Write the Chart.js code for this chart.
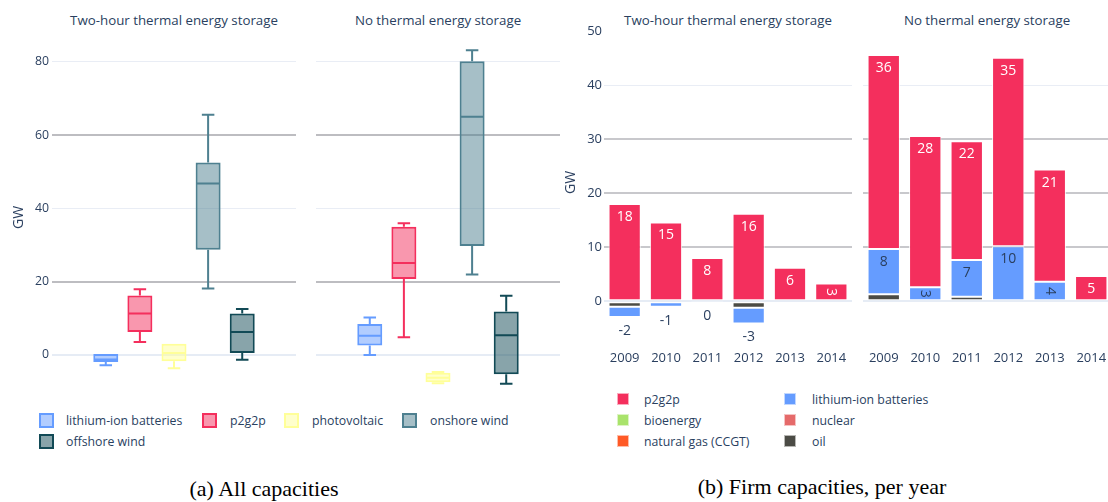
<!DOCTYPE html>
<html>
<head>
<meta charset="utf-8">
<script src="https://cdn.jsdelivr.net/npm/chart.js@4"></script>
<style>
body { margin: 0; width: 1108px; height: 502px; overflow: hidden; background: #fff; position: relative;
       font-family: "Open Sans", sans-serif; color: #2a3f5f; }
canvas { position: absolute; }
.naslov { position: absolute; font-size: 13.3px; transform: translate(-50%, -50%); white-space: nowrap; }
.leg { position: absolute; font-size: 12.3px; transform: translateY(-50%); white-space: nowrap; }
.sw { position: absolute; box-sizing: border-box; }
.caption { position: absolute; font-family: "Liberation Serif", serif; font-size: 22px; color: #000;
           transform: translate(-50%, -50%); white-space: nowrap; }
</style>
</head>
<body>
<div class="naslov" style="left:174px;top:20px">Two-hour thermal energy storage</div>
<div class="naslov" style="left:438px;top:20px">No thermal energy storage</div>
<div class="naslov" style="left:728px;top:20px">Two-hour thermal energy storage</div>
<div class="naslov" style="left:987px;top:20px">No thermal energy storage</div>

<canvas id="boxA1" width="300" height="370" style="left:0;top:30px"></canvas>
<canvas id="boxA2" width="244" height="370" style="left:316px;top:30px"></canvas>
<canvas id="barB1" width="296" height="350" style="left:556px;top:20px"></canvas>
<canvas id="barB2" width="249" height="350" style="left:863px;top:20px"></canvas>

<div id="legendA"></div>
<div id="legendB"></div>

<div class="caption" style="left:264px;top:489px">(a) All capacities</div>
<div class="caption" style="left:822px;top:487px">(b) Firm capacities, per year</div>

<script>
// Box plot (a): one box per technology
const boxNames = ['lithium-ion batteries', 'p2g2p', 'photovoltaic', 'onshore wind', 'offshore wind'];

// Two-hour thermal energy storage
const twoHourMin = [-2.9, 3.5, -3.7, 18.1, -1.4];
const twoHourQ1 = [-2.0, 6.2, -1.8, 28.7, 0.5];
const twoHourMedian = [-1.3, 11.3, 0.5, 46.8, 6.2];
const twoHourQ3 = [0.2, 16.2, 3.0, 52.5, 11.3];
const twoHourMax = [0.2, 17.9, 3.0, 65.6, 12.5];

// No thermal energy storage
const noTesMin = [-0.1, 4.8, -7.8, 21.9, -7.9];
const noTesQ1 = [2.5, 20.7, -7.5, 29.7, -5.3];
const noTesMedian = [5.2, 25.1, -6.3, 65.0, 5.3];
const noTesQ3 = [8.4, 35.0, -4.9, 80.2, 11.8];
const noTesMax = [10.2, 35.9, -4.7, 83.2, 16.1];

const boxTicks = [0, 20, 40, 60, 80];

// Bars (b): firm capacities per year
const years = ['2009', '2010', '2011', '2012', '2013', '2014'];
const twoHourP2g2p = [18.0, 14.6, 8.0, 16.2, 6.2, 3.3];
const twoHourLithium = [-1.9, -1.0, -0.05, -2.9, null, null];
const twoHourOil = [-1.0, null, null, -1.2, null, null];
const noTesP2g2p = [35.9, 28.0, 22.0, 34.9, 20.8, 4.7];
const noTesLithium = [8.4, 2.6, 6.8, 10.2, 3.6, null];
const noTesOil = [1.3, null, 0.85, null, null, null];
const noValues = [null, null, null, null, null, null]; // bioenergy, nuclear, natural gas

const barTicks = [0, 10, 20, 30, 40, 50];

// Boje
const boxLine = ['#659cff', '#f42f5d', '#ffff99', '#4e8090', '#124a56'];
const boxFill = ['rgba(101,156,255,0.5)', 'rgba(244,47,93,0.5)', 'rgba(255,255,153,0.5)',
                 'rgba(78,128,144,0.5)', 'rgba(18,74,86,0.5)'];
const barColors = {
    'p2g2p': '#f42f5d',
    'lithium-ion batteries': '#659cff',
    'bioenergy': '#a9e36b',
    'nuclear': '#e56a6a',
    'natural gas (CCGT)': '#ff5a26',
    'oil': '#4b4b45'
};

// Median, whiskers and caps on top of the floating bars
const boxWhiskers = {
    id: 'boxWhiskers',
    afterDatasetsDraw(chart) {
        const ctx = chart.ctx;
        const y = chart.scales.y;
        chart.data.datasets.forEach((ds, i) => {
            chart.getDatasetMeta(i).data.forEach((bar, j) => {
                const x = bar.x, w = bar.width;
                const q1 = ds.data[j][0], q3 = ds.data[j][1];
                ctx.save();
                ctx.strokeStyle = ds.borderColor;
                ctx.lineWidth = 2;
                ctx.beginPath();
                const ym = y.getPixelForValue(ds.median[j]);
                ctx.moveTo(x - w / 2 + 1, ym); ctx.lineTo(x + w / 2 - 1, ym);
                if (ds.max[j] > q3) {
                    const yt = y.getPixelForValue(ds.max[j]);
                    ctx.moveTo(x, y.getPixelForValue(q3)); ctx.lineTo(x, yt);
                    ctx.moveTo(x - w / 4, yt); ctx.lineTo(x + w / 4, yt);
                }
                if (ds.min[j] < q1) {
                    const yb = y.getPixelForValue(ds.min[j]);
                    ctx.moveTo(x, y.getPixelForValue(q1)); ctx.lineTo(x, yb);
                    ctx.moveTo(x - w / 4, yb); ctx.lineTo(x + w / 4, yb);
                }
                ctx.stroke();
                ctx.restore();
            });
        });
    }
};

// Value labels on the bars (plotly style: inside, rotated when short, outside for negatives)
const barLabels = {
    id: 'barLabels',
    afterDatasetsDraw(chart) {
        const ctx = chart.ctx;
        chart.data.datasets.forEach((ds, i) => {
            if (!ds.labelColor) return;
            chart.getDatasetMeta(i).data.forEach((bar, j) => {
                const v = ds.data[j];
                if (v === null) return;
                const text = String(Math.round(v) || 0);
                const top = Math.min(bar.y, bar.base), bottom = Math.max(bar.y, bar.base);
                const h = bottom - top;
                ctx.save();
                ctx.font = '14px "Open Sans"';
                ctx.textAlign = 'center';
                ctx.textBaseline = 'middle';
                if (v < 0 && ds.outsideNeg) {
                    ctx.fillStyle = '#2a3f5f';
                    ctx.fillText(text, bar.x, bottom + 14);
                } else if (h >= 24) {
                    ctx.fillStyle = ds.labelColor;
                    ctx.fillText(text, bar.x, top + 13);
                } else if (h >= 12) {
                    ctx.fillStyle = ds.labelColor;
                    ctx.translate(bar.x, (top + bottom) / 2);
                    ctx.rotate(Math.PI / 2);
                    ctx.fillText(text, 0, 0);
                }
                ctx.restore();
            });
        });
    }
};

function gridBoja(c) {
    const v = c.tick.value;
    if (v === 0) return '#e6ecf5';
    if (v === 20 || v === 60) return '#bdbdc1';
    return '#e9edf5';
}

// Chart.js reserves room for half of the edge labels; the plot area is fixed here
function fiksirajY(s, w) {
    s.width = w;
    s.paddingTop = 0;
    s.paddingBottom = 0;
}

function boxChart(id, mins, q1s, medians, q3s, maxs, showTicks) {
    const datasets = boxNames.map((name, k) => ({
        label: name,
        data: [[q1s[k], q3s[k]]],
        min: [mins[k]], median: [medians[k]], max: [maxs[k]],
        backgroundColor: boxFill[k],
        borderColor: boxLine[k],
        borderWidth: 2,
        borderSkipped: false,
        categoryPercentage: 0.699,
        barPercentage: 0.733
    }));
    return new Chart(document.getElementById(id), {
        type: 'bar',
        data: { labels: ['all'], datasets: datasets },
        options: {
            responsive: false, animation: false, devicePixelRatio: 1,
            layout: { padding: showTicks ? { left: 7, top: 10, right: 4, bottom: 5 } : { left: 0, top: 10, right: 0, bottom: 5 } },
            plugins: { legend: { display: false }, tooltip: { enabled: false } },
            scales: {
                x: { display: false },
                y: {
                    min: -11, max: 86,
                    afterBuildTicks: s => { s.ticks = boxTicks.map(v => ({ value: v })); },
                    afterFit: s => fiksirajY(s, showTicks ? 45 : 0),
                    border: { display: false },
                    grid: {
                        drawTicks: false,
                        color: gridBoja,
                        lineWidth: c => (c.tick.value === 0 || c.tick.value === 20 || c.tick.value === 60) ? 2 : 1
                    },
                    ticks: { display: showTicks, color: '#2a3f5f', font: { family: 'Open Sans', size: 12.3 }, padding: 3 },
                    title: { display: showTicks, text: 'GW', color: '#2a3f5f', font: { family: 'Open Sans', size: 14 } }
                }
            }
        },
        plugins: [boxWhiskers]
    });
}

function barChart(id, p2g2p, lithium, oil, showTicks) {
    const serije = [
        { label: 'oil', data: oil },
        { label: 'lithium-ion batteries', data: lithium, labelColor: '#2a3f5f', outsideNeg: true },
        { label: 'p2g2p', data: p2g2p, labelColor: '#ffffff' },
        { label: 'bioenergy', data: noValues },
        { label: 'nuclear', data: noValues },
        { label: 'natural gas (CCGT)', data: noValues }
    ];
    const datasets = serije.map(s => Object.assign({
        backgroundColor: barColors[s.label],
        borderColor: 'rgba(255,255,255,0.85)',
        borderWidth: 1,
        borderSkipped: false,
        categoryPercentage: 1,
        barPercentage: 0.78
    }, s));
    return new Chart(document.getElementById(id), {
        type: 'bar',
        data: { labels: years, datasets: datasets },
        options: {
            responsive: false, animation: false, devicePixelRatio: 1,
            layout: { padding: { left: showTicks ? 3 : 0, top: 11.3, right: 0, bottom: 0 } },
            plugins: { legend: { display: false }, tooltip: { enabled: false } },
            scales: {
                x: {
                    stacked: true,
                    afterFit: s => { s.height = 36.3; s.paddingLeft = 0; s.paddingRight = 0; },
                    border: { display: false },
                    grid: { display: false },
                    ticks: { color: '#2a3f5f', font: { family: 'Open Sans', size: 13 }, padding: 9, maxRotation: 0 }
                },
                y: {
                    stacked: true,
                    min: -6, max: 50,
                    afterBuildTicks: s => { s.ticks = barTicks.map(v => ({ value: v })); },
                    afterFit: s => fiksirajY(s, showTicks ? 45 : 0),
                    border: { display: false },
                    grid: {
                        drawTicks: false,
                        color: c => {
                            const v = c.tick.value;
                            if (v === 0) return '#e6ecf5';
                            if (v === 50) return 'rgba(0,0,0,0)';
                            if (v === 40) return '#e9edf5';
                            return '#c8c8cc';
                        },
                        lineWidth: c => c.tick.value === 40 ? 1 : 2
                    },
                    ticks: { display: showTicks, color: '#2a3f5f', font: { family: 'Open Sans', size: 13 }, padding: 2 },
                    title: { display: showTicks, text: 'GW', color: '#2a3f5f', font: { family: 'Open Sans', size: 14 } }
                }
            }
        },
        plugins: [barLabels]
    });
}

boxChart('boxA1', twoHourMin, twoHourQ1, twoHourMedian, twoHourQ3, twoHourMax, true);
boxChart('boxA2', noTesMin, noTesQ1, noTesMedian, noTesQ3, noTesMax, false);
barChart('barB1', twoHourP2g2p, twoHourLithium, twoHourOil, true);
barChart('barB2', noTesP2g2p, noTesLithium, noTesOil, false);

// Legende (HTML)
function dodajLegendu(el, stavke) {
    stavke.forEach(s => {
        const sw = document.createElement('div');
        sw.className = 'sw';
        sw.style.cssText = `left:${s.sx}px;top:${s.y - s.size / 2}px;width:${s.size}px;height:${s.size}px;` +
            `background:${s.fill};border:${s.bw}px solid ${s.line};`;
        el.appendChild(sw);
        const t = document.createElement('div');
        t.className = 'leg';
        t.style.left = s.tx + 'px';
        t.style.top = s.y + 'px';
        t.textContent = s.name;
        el.appendChild(t);
    });
}

const legAX = [[39, 66, 420], [202, 230, 420], [284, 312, 420], [402, 430, 420], [39, 66, 441]];
dodajLegendu(document.getElementById('legendA'), boxNames.map((n, k) => ({
    name: n, sx: legAX[k][0], tx: legAX[k][1], y: legAX[k][2], size: 15,
    fill: boxFill[k], line: boxLine[k], bw: 2
})));

const legBNames = ['p2g2p', 'bioenergy', 'natural gas (CCGT)', 'lithium-ion batteries', 'nuclear', 'oil'];
const legBY = [398.5, 420, 441];
dodajLegendu(document.getElementById('legendB'), legBNames.map((n, k) => ({
    name: n, sx: k < 3 ? 617 : 784, tx: k < 3 ? 644 : 812, y: legBY[k % 3], size: 12,
    fill: barColors[n], line: 'rgba(255,255,255,0.6)', bw: 1
})));
</script>
</body>
</html>
